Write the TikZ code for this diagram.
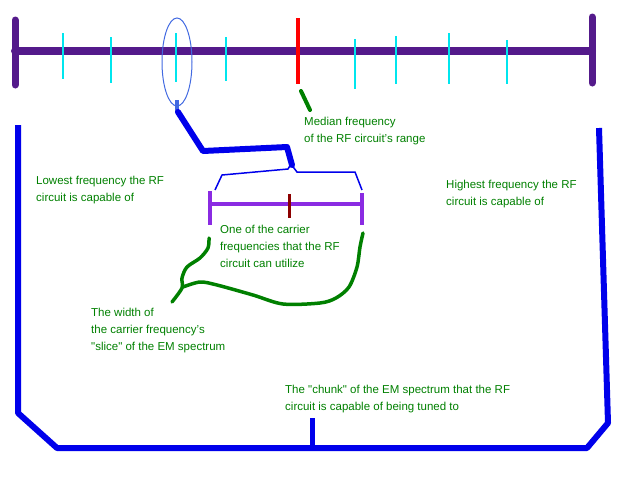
\documentclass[tikz,border=0pt]{standalone}
\usepackage{fontspec}
\setmainfont{Liberation Sans}
\usepackage{xcolor}
\usepackage{tikz}
\definecolor{barpurple}{RGB}{84,26,139}
\definecolor{tickcyan}{RGB}{0,230,238}
\definecolor{ringblue}{RGB}{65,105,225}
\definecolor{penblue}{RGB}{0,0,235}
\definecolor{slicepurple}{RGB}{138,43,226}
\definecolor{labelgreen}{RGB}{0,128,0}

\begin{document}
\begin{tikzpicture}[x=1pt,y=-1pt,
  lbl/.style={text=labelgreen, anchor=base west, inner sep=0pt, align=left,
    font=\fontsize{11.5}{17}\selectfont},
  pen/.style={line width=#1, line cap=round, line join=round}]
\useasboundingbox (0,0) rectangle (640,480);
% frequency scale
\draw[barpurple, pen=8pt] (15,51) -- (592,51);
\draw[barpurple, pen=7pt] (15,20) -- (15,85);
\draw[barpurple, pen=7pt] (592,17) -- (592,83);
\foreach \x/\a/\b in {63/33/79, 111/37/83, 176/33/82, 226/37/81,
                      355/39/89, 396/36/84, 449/33/84, 507/40/84}
  \draw[tickcyan, line width=2pt] (\x,\a) -- (\x,\b);
\draw[red, line width=4pt] (298,18) -- (298,84);
\draw[ringblue, line width=1pt] (177,62) ellipse (15 and 44);
% zoomed slice
\draw[ringblue, line width=4pt] (177,100) -- (177,113);
\draw[penblue, pen=6pt] (178,112) -- (203,151) -- (287,147) -- (292,165);
\draw[penblue, line width=1.5pt] (215,190) -- (222,175) -- (288,169) -- (291,164)
  -- (297,172) -- (355,172) -- (362,190);
\draw[slicepurple, line width=4pt] (210,191) -- (210,225);
\draw[slicepurple, line width=4pt] (362,193) -- (362,225);
\draw[slicepurple, line width=4pt] (210,204) -- (362,204);
\draw[red!55!black, line width=3pt] (289,194) -- (289,218);
% pointers
\draw[labelgreen, pen=4pt] (301,91) -- (310,110);
\draw[labelgreen, pen=3.5pt] plot[smooth] coordinates {(209,238) (208,248) (200,258)
  (187,267) (182,278) (182,288) (172,302)};
\draw[labelgreen, pen=3.5pt] plot[smooth] coordinates {(183,287) (200,282) (217,285)
  (253,295) (283,304) (320,303) (336,298) (349,287) (357,267) (360,247) (363,233)};
% whole range
\draw[penblue, line width=6pt, line join=round] (18,125) -- (18,413) -- (57,448)
  -- (587,448) -- (608,423) -- (599,128);
\draw[penblue, line width=5pt] (312,418) -- (312,448);
% labels (base = last line)
\node[lbl] (median) at (304,142) {Median frequency\\of the RF circuit's range};
\node[lbl] (lowest) at (36,201) {Lowest frequency the RF\\circuit is capable of};
\node[lbl] (highest) at (446,205) {Highest frequency the RF\\circuit is capable of};
\node[lbl] (carrier) at (220,267) {One of the carrier\\frequencies that the RF\\circuit can utilize};
\node[lbl] (width) at (91,350) {The width of\\the carrier frequency's\\\textquotedbl slice\textquotedbl{} of the EM spectrum};
\node[lbl] (chunk) at (285,410) {The \textquotedbl chunk\textquotedbl{} of the EM spectrum that the RF\\circuit is capable of being tuned to};
\end{tikzpicture}
\end{document}
